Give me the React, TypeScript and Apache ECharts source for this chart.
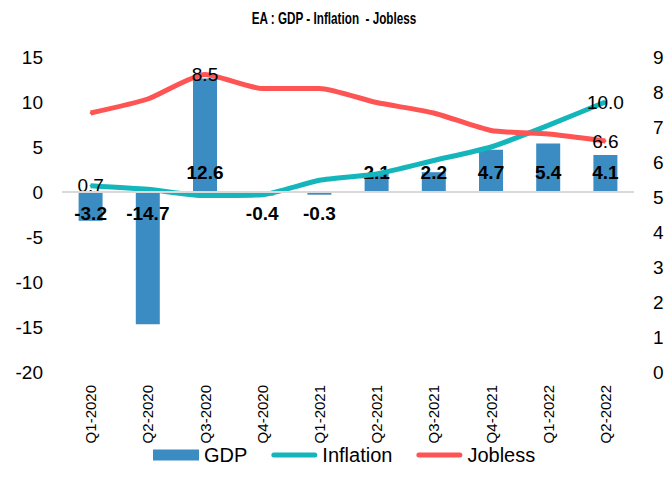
import React, { useEffect, useRef } from "react";
import * as echarts from "echarts";

const categories = ["Q1-2020", "Q2-2020", "Q3-2020", "Q4-2020", "Q1-2021", "Q2-2021", "Q3-2021", "Q4-2021", "Q1-2022", "Q2-2022"];
const gdp = [-3.2, -14.7, 12.6, -0.4, -0.3, 2.1, 2.2, 4.7, 5.4, 4.1];
const inflation = [0.7, 0.3, -0.4, -0.3, 1.3, 2.0, 3.5, 5.0, 7.4, 10.0];
const jobless = [7.4, 7.8, 8.5, 8.1, 8.1, 7.7, 7.4, 6.9, 6.8, 6.6];
const inflationLabelIdx = [0, 9];
const joblessLabelIdx = [2, 9];
const leftAxis = { min: -20, max: 15, interval: 5 };
const rightAxis = { min: 0, max: 9, interval: 1 };
const titleText = "EA : GDP - Inflation  - Jobless";

const FONT = "'Liberation Sans', Arial, sans-serif";
const C_GDP = "#3C8CC4";
const C_INF = "#14B6BB";
const C_JOB = "#FF5454";
const LINE_ICON = "path://M2.5,0H43.5A2.5,2.5,0,0,1,43.5,5H2.5A2.5,2.5,0,0,1,2.5,0Z";

export default function App() {
  const ref = useRef<HTMLDivElement>(null);
  useEffect(() => {
    if (!ref.current) return;
    const chart = echarts.init(ref.current, undefined, { renderer: "svg" });
    const lineData = (vals: number[], idx: number[]) =>
      vals.map((v, i) => ({ value: v, label: { show: idx.includes(i) } }));
    chart.setOption({
      animation: false,
      textStyle: { fontFamily: FONT },
      graphic: [
        {
          type: "text",
          x: 334,
          y: 18,
          scaleX: 0.71,
          style: {
            text: titleText,
            align: "center",
            verticalAlign: "middle",
            textAlign: "center",
            textVerticalAlign: "middle",
            fontSize: 16.5,
            fontWeight: "bold",
            fontFamily: FONT,
            fill: "#000",
          },
        },
      ],
      legend: {
        left: 148,
        top: 440,
        itemWidth: 46,
        itemHeight: 11,
        itemGap: 24,
        textStyle: { fontSize: 20, color: "#000", fontFamily: FONT },
        data: [
          { name: "GDP", icon: "rect", itemStyle: { color: C_GDP } },
          { name: "Inflation", icon: LINE_ICON, itemStyle: { color: C_INF } },
          { name: "Jobless", icon: LINE_ICON, itemStyle: { color: C_JOB } },
        ],
      },
      grid: { left: 62, right: 35, top: 57, bottom: 122 },
      xAxis: {
        type: "category",
        data: categories,
        axisLine: { show: false, onZero: false },
        axisTick: { show: false },
        axisLabel: { rotate: 90, fontSize: 15, color: "#000", margin: 13, fontFamily: FONT },
      },
      yAxis: [
        {
          type: "value",
          ...leftAxis,
          axisLine: { show: false },
          axisTick: { show: false },
          splitLine: { show: false },
          axisLabel: { fontSize: 19, color: "#000", margin: 19, fontFamily: FONT },
        },
        {
          type: "value",
          ...rightAxis,
          axisLine: { show: false },
          axisTick: { show: false },
          splitLine: { show: false },
          axisLabel: { fontSize: 19, color: "#000", margin: 19, fontFamily: FONT },
        },
      ],
      series: [
        {
          name: "GDP",
          type: "bar",
          yAxisIndex: 0,
          barWidth: 24,
          color: C_GDP,
          itemStyle: { color: C_GDP },
          data: gdp.map((v) => ({
            value: v,
            label: {
              show: true,
              position: v >= 0 ? "insideBottom" : "insideTop",
              distance: v >= 0 ? 10 : 12,
            },
          })),
          label: {
            fontSize: 19,
            fontWeight: "bold",
            color: "#000",
            fontFamily: FONT,
            formatter: (p: any) => Number(p.value).toFixed(1),
          },
          markLine: {
            silent: true,
            symbol: "none",
            label: { show: false },
            lineStyle: { color: "#d9d9d9", width: 2, type: "solid" },
            data: [{ yAxis: 0 }],
          },
        },
        {
          name: "Inflation",
          type: "line",
          yAxisIndex: 0,
          color: C_INF,
          smooth: 0.2,
          symbol: "circle",
          symbolSize: 2,
          showSymbol: true,
          itemStyle: { color: C_INF, borderWidth: 0 },
          lineStyle: { color: C_INF, width: 5 },
          label: {
            show: false,
            position: "inside",
            fontSize: 19,
            color: "#000",
            fontFamily: FONT,
            formatter: (p: any) => Number(p.value).toFixed(1),
          },
          data: lineData(inflation, inflationLabelIdx),
        },
        {
          name: "Jobless",
          type: "line",
          yAxisIndex: 1,
          color: C_JOB,
          smooth: 0.2,
          symbol: "circle",
          symbolSize: 2,
          showSymbol: true,
          itemStyle: { color: C_JOB, borderWidth: 0 },
          lineStyle: { color: C_JOB, width: 5 },
          label: {
            show: false,
            position: "inside",
            fontSize: 19,
            color: "#000",
            fontFamily: FONT,
            formatter: (p: any) => Number(p.value).toFixed(1),
          },
          data: lineData(jobless, joblessLabelIdx),
        },
      ],
    });
    return () => chart.dispose();
  }, []);
  return (
    <div
      ref={ref}
      style={{ position: "absolute", left: 0, top: 0, width: 669, height: 494, background: "#fff" }}
    />
  );
}
